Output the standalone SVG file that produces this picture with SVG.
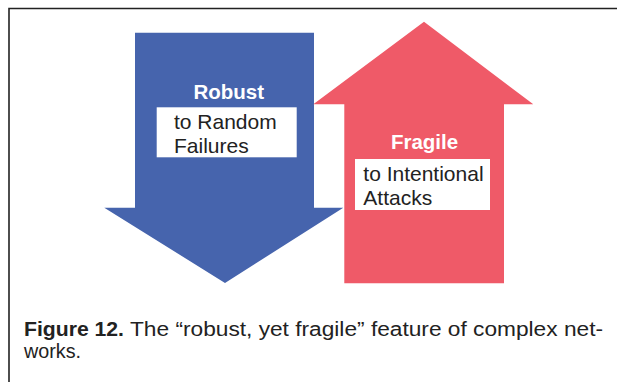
<svg xmlns="http://www.w3.org/2000/svg" width="617" height="382" viewBox="0 0 617 382">
<style>
.lbl{font-family:"Liberation Sans",Arial,sans-serif;font-weight:bold;font-size:20.5px;fill:#fff;text-anchor:middle}
.sub{font-family:"Liberation Sans",Arial,sans-serif;font-size:21px;fill:#222}
.cap{font-family:"Liberation Sans",Arial,sans-serif;font-size:19.5px;fill:#222}
.box{fill:#fff}
</style>
<rect width="617" height="382" fill="#fff"/>
<path d="M9,382 V8.5 H617" fill="none" stroke="#222" stroke-width="1.6"/>
<g id="connectors"></g>
<g id="robust">
<path d="M135,32.7 H314 V207.7 H343.3 L225,283 L104.3,207.7 H135 Z" fill="#4664ad"/>
<text class="lbl" x="228.8" y="98.5">Robust</text>
<rect class="box" x="156.7" y="107.3" width="140" height="50"/>
<text class="sub" x="174" y="129.3">to Random</text>
<text class="sub" x="174" y="153.3">Failures</text>
</g>
<g id="fragile">
<path d="M424,21.7 L533.3,104.3 H504 V283.3 H344.3 V104.3 H313.3 Z" fill="#ef5a68"/>
<text class="lbl" x="424.5" y="149.3">Fragile</text>
<rect class="box" x="355" y="159" width="135" height="51"/>
<text class="sub" x="363.3" y="180.7">to Intentional</text>
<text class="sub" x="363.3" y="205">Attacks</text>
</g>
<g id="caption">
<text class="cap" x="24" y="335.5" font-weight="bold" textLength="100" lengthAdjust="spacingAndGlyphs">Figure 12.</text>
<text class="cap" x="130" y="335.5" textLength="473" lengthAdjust="spacingAndGlyphs">The “robust, yet fragile” feature of complex net-</text>
<text class="cap" x="24" y="357.5" textLength="57" lengthAdjust="spacingAndGlyphs">works.</text>
</g>
</svg>
